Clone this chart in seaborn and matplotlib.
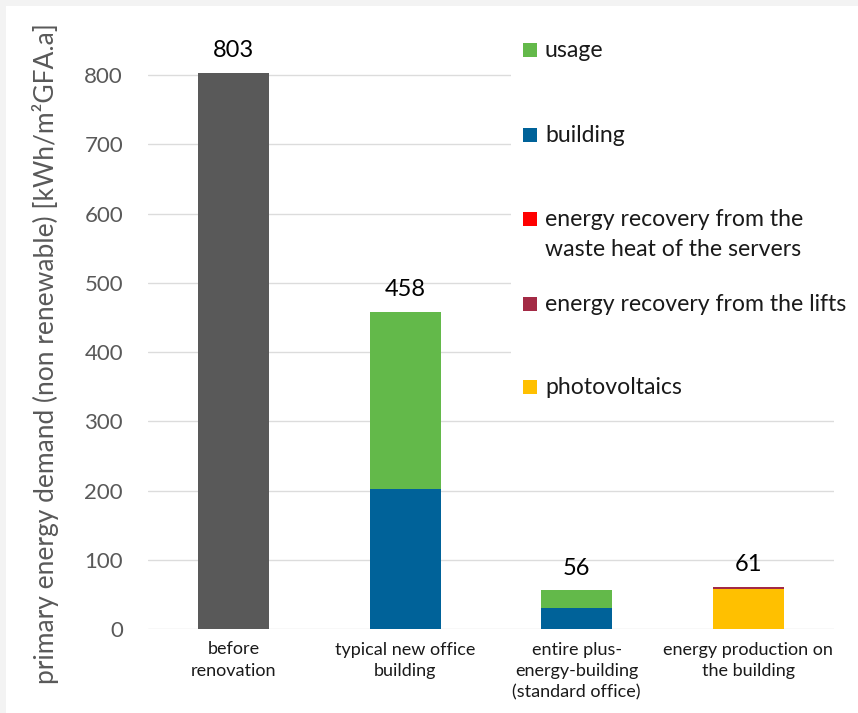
import matplotlib
matplotlib.use("Agg")
import matplotlib.pyplot as plt
from matplotlib.patches import Rectangle
import numpy as np
import seaborn as sns

# Categories and stacked components (kWh/m²GFA.a)
categories = ["before\nrenovation", "typical new office\nbuilding",
              "entire plus-\nenergy-building\n(standard office)",
              "energy production on\nthe building"]
before_renovation = [803, 0, 0, 0]
usage = [0, 256, 26, 0]
building = [0, 202, 30, 0]
servers_heat = [0, 0, 0, 1]
lifts = [0, 0, 0, 2]
photovoltaics = [0, 0, 0, 58]

legend_labels = ["usage", "building",
                 "energy recovery from the\nwaste heat of the servers",
                 "energy recovery from the lifts", "photovoltaics"]
yticks = [0, 100, 200, 300, 400, 500, 600, 700, 800]

sns.set_theme(style="white")
plt.rcParams["font.family"] = ["Lato", "DejaVu Sans"]

W, H = 858, 713
fig = plt.figure(figsize=(W / 100, H / 100), dpi=100)
fig.patch.set_facecolor("white")
# thin grey frame along the top and left edges
fig.patches.append(Rectangle((0, 1 - 6 / H), 1, 6 / H, transform=fig.transFigure,
                             facecolor="#f3f3f3", edgecolor="none", zorder=-5))
fig.patches.append(Rectangle((0, 0), 6 / W, 1, transform=fig.transFigure,
                             facecolor="#f3f3f3", edgecolor="none", zorder=-5))

ax_left, ax_right, ax_top, ax_bottom = 148, 834, 73, 629
ax = fig.add_axes([ax_left / W, (H - ax_bottom) / H,
                   (ax_right - ax_left) / W, (ax_bottom - ax_top) / H])
ax.set_facecolor("white")

# stacking order from the bottom up
layers = [
    (photovoltaics, "#ffc000"),
    (lifts, "#a32a45"),
    (servers_heat, "#ff0000"),
    (building, "#006299"),
    (usage, "#63b94a"),
    (before_renovation, "#595959"),
]
bottom = np.zeros(len(categories))
for vals, col in layers:
    vals = np.array(vals, dtype=float)
    sns.barplot(x=categories, y=vals, color=col, bottom=bottom.copy(),
                width=0.414, errorbar=None, ax=ax, linewidth=0, saturation=1,
                zorder=3)
    bottom += vals

totals = bottom
for i, t in enumerate(totals):
    ax.annotate(f"{t:.0f}", (i, t), xytext=(0, 16), textcoords="offset points",
                ha="center", va="center", fontsize=17, color="black",
                annotation_clip=False)

ax.set_ylim(0, 803)
ax.set_xlim(-0.5, len(categories) - 0.5)
ax.set_yticks(yticks)
ax.set_yticklabels([str(v) for v in yticks], fontsize=16, color="#595959")
ax.tick_params(axis="y", length=0, pad=18)
ax.tick_params(axis="x", length=0, pad=9, labelsize=13, labelcolor="#1a1a1a")
for lab in ax.get_xticklabels():
    lab.set_linespacing(1.42)
ax.yaxis.grid(True, color="#dcdcdc", linewidth=1, zorder=0)
ax.set_axisbelow(True)
for s in ax.spines.values():
    s.set_visible(False)
ax.set_ylabel("primary energy demand (non renewable) [kWh/m²GFA.a]",
              fontsize=19, color="#595959")
ax.yaxis.set_label_coords(-(ax_left - 59) / (ax_right - ax_left), 0.495)

# legend panel
fig.patches.append(Rectangle((511 / W, (H - 420) / H), (856 - 511) / W, (420 - 28) / H,
                             transform=fig.transFigure, facecolor="white",
                             edgecolor="none", zorder=2))
legend_colors = ["#63b94a", "#006299", "#ff0000", "#a32a45", "#ffc000"]
legend_y = [50, 135, 219, 304, 387]
for lab, col, yc in zip(legend_labels, legend_colors, legend_y):
    fig.patches.append(Rectangle((523 / W, (H - yc - 7) / H), 14 / W, 14 / H,
                                 transform=fig.transFigure, facecolor=col,
                                 edgecolor="none", zorder=3))
    fig.text(545 / W, (H - yc + 10) / H, lab, ha="left", va="top", fontsize=16.6,
             color="#1a1a1a", linespacing=1.5, zorder=4)

fig.savefig("out.png", dpi=100)
